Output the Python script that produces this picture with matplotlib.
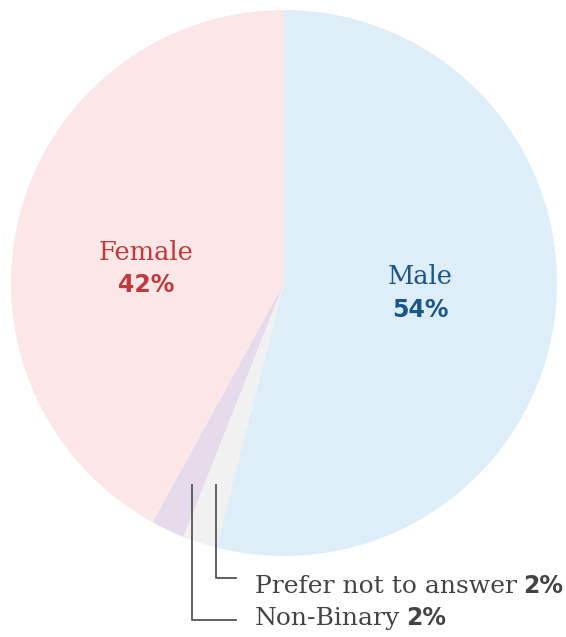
import matplotlib
matplotlib.use("Agg")
import matplotlib.pyplot as plt

# data
labels = ["Male", "Prefer not to answer", "Non-Binary", "Female"]
shares = [54, 2, 2, 42]
colors = ["#deeef8", "#f1f1f1", "#e6dbea", "#fbe7e8"]

W, H = 566, 637
fig = plt.figure(figsize=(W / 100, H / 100), dpi=100)
ax = fig.add_axes([0, 0, 1, 1])

cx, cy, r = 284, H - 283, 273
ax.pie(shares, colors=colors, startangle=90, counterclock=False,
       center=(cx, cy), radius=r, frame=True,
       wedgeprops=dict(linewidth=0))
ax.set_xlim(0, W)
ax.set_ylim(0, H)
ax.set_aspect("equal")
ax.axis("off")

serif = "DejaVu Serif"
sans = "DejaVu Sans"

# big labels inside slices
ax.text(146, H - 252, "Female", ha="center", va="center", fontsize=18.5,
        family=serif, color="#c0393b")
ax.text(146, H - 285, "42%", ha="center", va="center", fontsize=17,
        family=sans, weight="bold", color="#c0393b")
ax.text(420, H - 277, "Male", ha="center", va="center", fontsize=18.5,
        family=serif, color="#1b5688")
ax.text(420, H - 310, "54%", ha="center", va="center", fontsize=17,
        family=sans, weight="bold", color="#1b5688")

# leader lines for small slices
line_col = "#555555"
ax.plot([216, 216, 236], [H - 485, H - 578, H - 578], color=line_col, lw=1.3)
ax.plot([192, 192, 236], [H - 485, H - 620, H - 620], color=line_col, lw=1.3)

gray = "#444444"
small = [("Prefer not to answer", "2%", 593), ("Non-Binary", "2%", 625)]
fig.canvas.draw()
rend = fig.canvas.get_renderer()
for name, pct, y in small:
    t = ax.text(255, H - y, name, ha="left", va="baseline",
                fontsize=18, family=serif, color=gray)
    bb = t.get_window_extent(rend)
    x_end = ax.transData.inverted().transform((bb.x1, bb.y0))[0]
    ax.text(x_end + 6, H - y, pct, ha="left", va="baseline",
            fontsize=17, family=sans, weight="bold", color=gray)

fig.savefig("out.png", dpi=100)
